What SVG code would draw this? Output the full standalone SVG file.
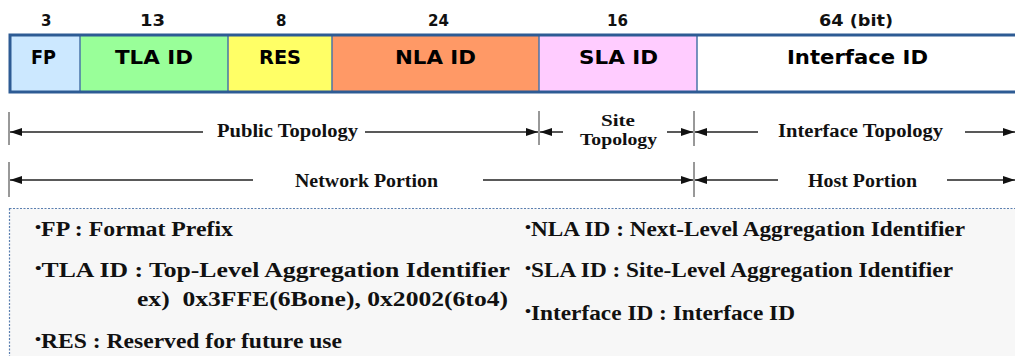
<svg xmlns="http://www.w3.org/2000/svg" width="1015" height="356" viewBox="0 0 1015 356">
  <style>
    .bits { font-family: "DejaVu Sans", Verdana, sans-serif; font-weight: bold; font-size: 15px; fill: #111; }
    .field { font-family: "DejaVu Sans", Verdana, sans-serif; font-weight: bold; font-size: 19.5px; fill: #000; }
    .div { stroke: #4a74a8; stroke-width: 1.5; }
    .span { font-family: "Liberation Serif", "Times New Roman", serif; font-weight: bold; font-size: 18px; fill: #111; }
    .desc { font-family: "Liberation Serif", "Times New Roman", serif; font-weight: bold; font-size: 20.5px; fill: #111; }
    .dot { font-size: 15px; }
    .line { stroke: #222; stroke-width: 1.5; fill: none; }
    .tick { stroke: #333; stroke-width: 1; }
  </style>
  <defs>
    <marker id="head" viewBox="0 0 12 10" refX="12" refY="5" markerWidth="12" markerHeight="10" markerUnits="userSpaceOnUse" orient="auto-start-reverse">
      <path d="M0,1 L12,5 L0,9 Z" fill="#111"/>
    </marker>
  </defs>

  <rect width="1015" height="356" fill="#ffffff"/>

  <!-- bit widths -->
  <g id="bit-widths">
    <text class="bits" x="41" y="26">3</text>
    <text class="bits" x="140" y="26" textLength="25" lengthAdjust="spacingAndGlyphs">13</text>
    <text class="bits" x="276" y="26">8</text>
    <text class="bits" x="428" y="26" textLength="21" lengthAdjust="spacingAndGlyphs">24</text>
    <text class="bits" x="607" y="26" textLength="21" lengthAdjust="spacingAndGlyphs">16</text>
    <text class="bits" x="819" y="26" textLength="74" lengthAdjust="spacingAndGlyphs">64 (bit)</text>
  </g>

  <!-- address fields -->
  <g id="field-fp">
    <rect x="10" y="35" width="70" height="57" fill="#cce8ff"/>
    <text class="field" x="31" y="64" textLength="25" lengthAdjust="spacingAndGlyphs">FP</text>
  </g>
  <g id="field-tla">
    <rect x="80" y="35" width="148" height="57" fill="#99ff99"/>
    <text class="field" x="115" y="64" textLength="78" lengthAdjust="spacingAndGlyphs">TLA ID</text>
  </g>
  <g id="field-res">
    <rect x="228" y="35" width="104" height="57" fill="#ffff66"/>
    <text class="field" x="259" y="64" textLength="42" lengthAdjust="spacingAndGlyphs">RES</text>
  </g>
  <g id="field-nla">
    <rect x="332" y="35" width="207" height="57" fill="#ff9966"/>
    <text class="field" x="395" y="64" textLength="81" lengthAdjust="spacingAndGlyphs">NLA ID</text>
  </g>
  <g id="field-sla">
    <rect x="539" y="35" width="158" height="57" fill="#ffccff"/>
    <text class="field" x="579" y="64" textLength="79" lengthAdjust="spacingAndGlyphs">SLA ID</text>
  </g>
  <g id="field-interface">
    <rect x="697" y="35" width="318" height="57" fill="#ffffff"/>
    <text class="field" x="787" y="64" textLength="141" lengthAdjust="spacingAndGlyphs">Interface ID</text>
  </g>

  <!-- field frame -->
  <g id="frame">
    <line class="div" x1="80" y1="35" x2="80" y2="92"/>
    <line class="div" x1="228" y1="35" x2="228" y2="92"/>
    <line class="div" x1="332" y1="35" x2="332" y2="92"/>
    <line class="div" x1="539" y1="35" x2="539" y2="92"/>
    <line class="div" x1="697" y1="35" x2="697" y2="92"/>
    <path d="M1016,35 H10 V92 H1016" fill="none" stroke="#2d5b94" stroke-width="3"/>
  </g>

  <!-- span connectors -->
  <g id="connectors">
    <line class="tick" x1="9" y1="112" x2="9" y2="145"/>
    <line class="tick" x1="539" y1="111" x2="539" y2="145"/>
    <line class="tick" x1="694" y1="111" x2="694" y2="146"/>
    <line class="tick" x1="9" y1="162" x2="9" y2="197"/>
    <line class="tick" x1="694" y1="162" x2="694" y2="197"/>

    <line class="line" x1="203" y1="132" x2="10" y2="132" marker-end="url(#head)"/>
    <line class="line" x1="365" y1="132" x2="538" y2="132" marker-end="url(#head)"/>
    <line class="line" x1="563" y1="132" x2="540" y2="132" marker-end="url(#head)"/>
    <line class="line" x1="667" y1="132" x2="693" y2="132" marker-end="url(#head)"/>
    <line class="line" x1="758" y1="132" x2="695" y2="132" marker-end="url(#head)"/>
    <line class="line" x1="965" y1="132" x2="1015" y2="132" marker-end="url(#head)"/>

    <line class="line" x1="253" y1="180" x2="10" y2="180" marker-end="url(#head)"/>
    <line class="line" x1="483" y1="180" x2="693" y2="180" marker-end="url(#head)"/>
    <line class="line" x1="778" y1="180" x2="695" y2="180" marker-end="url(#head)"/>
    <line class="line" x1="947" y1="180" x2="1015" y2="180" marker-end="url(#head)"/>
  </g>

  <!-- span labels -->
  <g id="span-labels">
    <text class="span" x="217" y="137" textLength="141" lengthAdjust="spacingAndGlyphs">Public Topology</text>
    <text class="span" x="601" y="126" textLength="34" lengthAdjust="spacingAndGlyphs" style="font-size:16px">Site</text>
    <text class="span" x="580" y="145" textLength="77" lengthAdjust="spacingAndGlyphs" style="font-size:16px">Topology</text>
    <text class="span" x="778" y="137" textLength="165" lengthAdjust="spacingAndGlyphs">Interface Topology</text>
    <text class="span" x="295" y="187" textLength="143" lengthAdjust="spacingAndGlyphs">Network Portion</text>
    <text class="span" x="808" y="187" textLength="109" lengthAdjust="spacingAndGlyphs">Host Portion</text>
  </g>

  <!-- legend -->
  <g id="legend">
    <rect x="9.5" y="208.5" width="1010" height="160" fill="#f7f7f7" stroke="#5a7fb0" stroke-width="1.2" stroke-dasharray="2 1.5"/>
    <text class="desc" x="35" y="236" textLength="198" lengthAdjust="spacingAndGlyphs"><tspan class="dot" dy="-4">•</tspan><tspan dy="4">FP : Format Prefix</tspan></text>
    <text class="desc" x="35" y="277" textLength="475" lengthAdjust="spacingAndGlyphs"><tspan class="dot" dy="-4">•</tspan><tspan dy="4">TLA ID : Top-Level Aggregation Identifier</tspan></text>
    <text class="desc" x="137" y="306" textLength="371" lengthAdjust="spacingAndGlyphs" xml:space="preserve">ex)  0x3FFE(6Bone), 0x2002(6to4)</text>
    <text class="desc" x="35" y="348" textLength="307" lengthAdjust="spacingAndGlyphs"><tspan class="dot" dy="-4">•</tspan><tspan dy="4">RES : Reserved for future use</tspan></text>
    <text class="desc" x="525" y="236" textLength="440" lengthAdjust="spacingAndGlyphs"><tspan class="dot" dy="-4">•</tspan><tspan dy="4">NLA ID : Next-Level Aggregation Identifier</tspan></text>
    <text class="desc" x="525" y="277" textLength="428" lengthAdjust="spacingAndGlyphs"><tspan class="dot" dy="-4">•</tspan><tspan dy="4">SLA ID : Site-Level Aggregation Identifier</tspan></text>
    <text class="desc" x="525" y="320" textLength="270" lengthAdjust="spacingAndGlyphs"><tspan class="dot" dy="-4">•</tspan><tspan dy="4">Interface ID : Interface ID</tspan></text>
  </g>
</svg>
